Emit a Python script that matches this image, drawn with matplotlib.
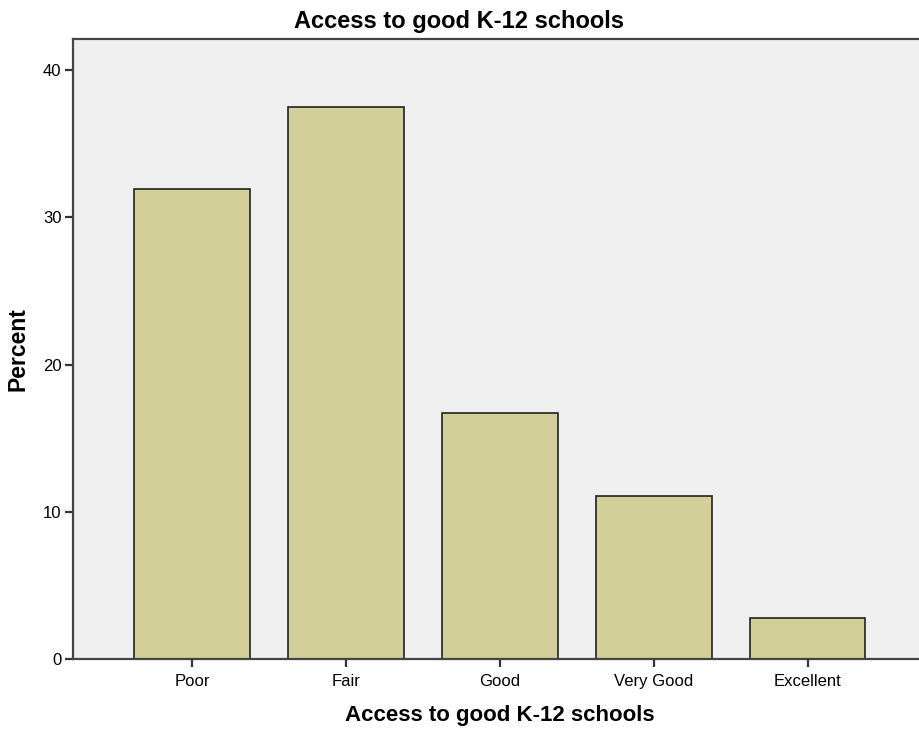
import matplotlib
matplotlib.use('Agg')
import matplotlib.pyplot as plt
import numpy as np

categories = ['Poor', 'Fair', 'Good', 'Very Good', 'Excellent']
percent = [31.9, 37.5, 16.7, 11.1, 2.8]

plt.rcParams['font.family'] = ['Liberation Sans', 'DejaVu Sans']

fig = plt.figure(figsize=(9.19, 7.31), dpi=100)
# right edge of the plot frame sits just past the picture edge
ax = fig.add_axes([0.0791, 0.0985, 0.9296, 0.8477])
ax.set_facecolor('#efefef')

x = np.arange(len(categories))
ax.bar(x, percent, width=0.752, color='#d3cf99', edgecolor='#222222', linewidth=1.2, zorder=2)

ax.set_xlim(-0.776, 4.776)
ax.set_ylim(0, 42.1)
ax.set_yticks([0, 10, 20, 30, 40])
ax.set_xticks(x)
ax.set_xticklabels(categories)

for s in ax.spines.values():
    s.set_color('#444444')
    s.set_linewidth(1.6)
ax.tick_params(axis='both', direction='out', length=6, width=1.6, color='#333333', labelsize=12)
ax.tick_params(axis='x', pad=5)
ax.tick_params(axis='y', pad=2)

fig.text(0.5, 1 - 28 / 731, 'Access to good K-12 schools', ha='center', va='baseline',
         fontsize=17, fontweight='bold')
ax.set_xlabel('Access to good K-12 schools', fontsize=16, fontweight='bold', labelpad=11)
ax.set_ylabel('Percent', fontsize=16.5, fontweight='bold', labelpad=10)

fig.savefig('out.png', dpi=100)
